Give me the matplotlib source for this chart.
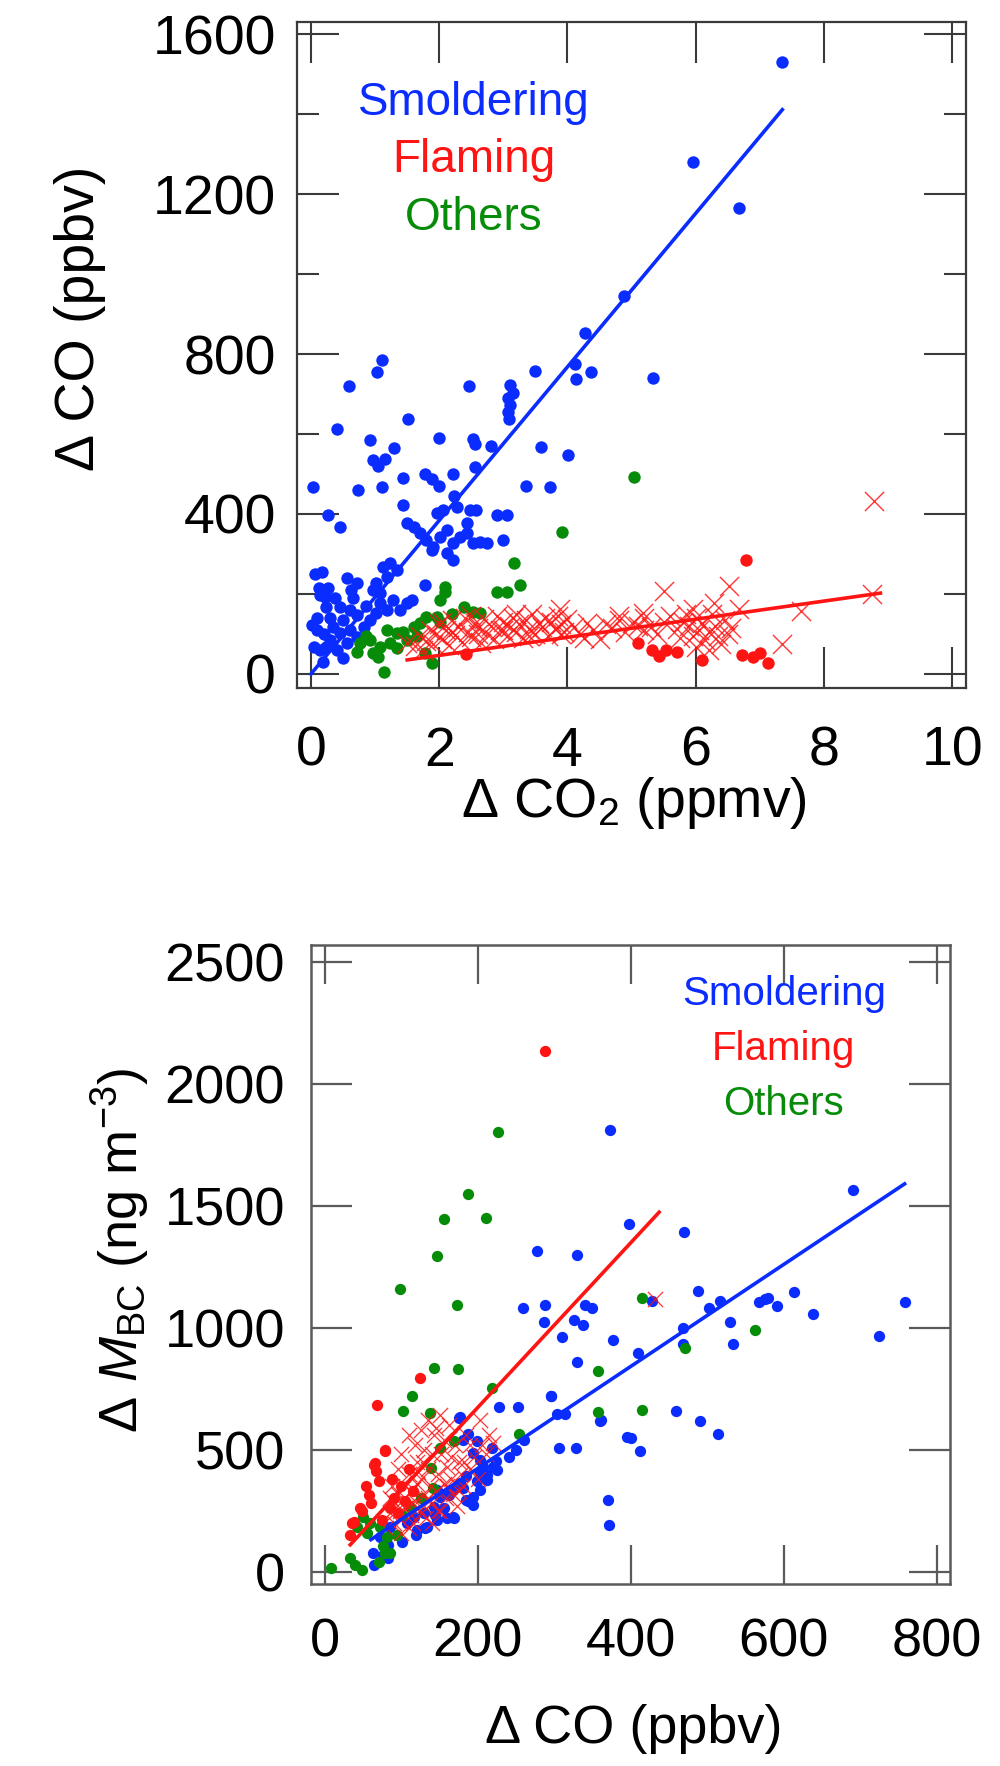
import numpy as np
import matplotlib
matplotlib.use("Agg")
import matplotlib.pyplot as plt

plt.rcParams['font.family'] = ['Liberation Sans', 'DejaVu Sans']
plt.rcParams['mathtext.fontset'] = 'custom'
plt.rcParams['mathtext.rm'] = 'Liberation Sans'
plt.rcParams['mathtext.it'] = 'Liberation Sans:italic'
plt.rcParams['mathtext.bf'] = 'Liberation Sans:bold'

BLUE = '#0a2cff'
RED = '#ff1414'
GREEN = '#078c0a'

# ---------------- top panel data: dCO2 (ppmv) vs dCO (ppbv) ----------------
top_smold = [
    (7.35, 1531), (5.96, 1280), (6.67, 1164), (4.88, 946), (4.27, 853), (4.12, 776), (4.36, 754),
    (4.14, 737), (3.50, 757), (5.34, 741), (1.11, 785), (1.03, 754), (0.59, 719), (2.47, 720),
    (3.11, 722), (3.15, 702), (3.08, 689), (3.10, 672), (3.07, 655), (3.09, 638), (1.51, 638),
    (0.41, 613), (0.92, 584), (1.30, 565), (0.97, 534), (1.05, 521), (1.16, 538), (1.99, 590),
    (2.53, 588), (2.55, 576), (2.81, 571), (3.59, 567), (4.01, 548), (0.03, 467), (0.74, 460),
    (1.11, 467), (1.44, 490), (1.78, 500), (1.89, 488), (2.00, 471), (2.21, 500), (2.55, 517),
    (3.35, 471), (3.72, 467), (2.23, 446),
    (0.27, 398), (0.45, 368), (1.44, 422), (0.17, 256), (0.27, 214), (0.22, 193), (0.14, 198),
    (0.24, 168), (0.56, 239), (0.71, 227), (0.63, 210), (1.78, 222), (1.57, 185), (0.01, 122),
    (0.09, 110), (0.04, 68), (0.14, 60), (0.45, 168), (0.61, 160), (0.71, 147), (0.50, 135),
    (0.35, 118), (0.45, 102), (0.61, 110), (0.71, 93), (0.82, 118), (0.92, 135), (1.02, 152),
    (1.08, 177), (1.18, 160), (1.28, 185), (1.39, 160), (1.49, 177), (1.08, 202), (0.97, 210),
    (0.30, 85), (0.24, 68), (0.40, 60), (0.56, 77), (1.49, 377), (1.60, 368), (1.70, 352),
    (1.80, 335), (1.91, 318), (2.01, 343), (2.12, 360), (2.22, 327), (2.32, 343), (2.43, 352),
    (2.53, 327), (2.64, 331), (2.74, 327), (3.00, 335), (1.96, 402), (2.06, 410), (2.27, 418),
    (2.48, 410), (2.58, 410), (2.43, 377), (2.90, 398), (3.05, 398), (2.12, 302), (2.22, 285),
    (1.88, 310), (1.13, 268), (1.23, 277), (1.34, 260), (1.18, 243), (1.02, 227),
    (0.06, 250), (0.10, 140), (0.30, 140), (0.20, 100), (0.18, 30), (0.50, 40), (0.65, 190),
    (0.85, 170), (0.38, 190), (0.12, 215),
]
top_others = [
    (5.03, 492), (3.92, 354), (3.16, 278), (3.26, 222), (2.90, 206), (3.05, 206), (2.09, 218),
    (2.09, 206), (2.01, 185), (2.38, 168), (2.53, 156), (2.64, 152), (1.80, 143), (1.96, 143),
    (2.01, 131), (1.60, 118), (1.70, 127), (1.18, 110), (1.34, 102), (1.44, 106), (0.76, 77),
    (0.92, 85), (1.08, 68), (1.23, 77), (1.34, 64), (0.71, 56), (0.97, 52), (1.05, 43),
    (1.14, 6), (1.78, 52), (1.88, 27), (0.85, 95), (1.50, 85), (2.20, 150), (1.65, 95),
]
top_flam_dots = [
    (2.41, 49), (5.10, 78), (5.32, 61), (5.43, 44), (5.54, 61), (5.70, 55), (6.10, 35),
    (6.72, 48), (6.90, 43), (7.00, 52), (7.13, 27), (6.79, 285),
]
top_flam_cross = [
    (8.78, 433), (8.75, 199), (7.64, 157), (7.35, 74), (5.50, 208), (6.52, 220), (6.68, 162),
    (6.28, 178), (5.95, 162), (5.17, 153), (3.88, 162), (1.49, 78),
    (1.62, 70), (1.70, 95), (1.80, 82), (1.85, 110), (1.90, 75), (1.95, 100), (2.00, 125),
    (2.05, 88), (2.10, 110), (2.15, 72), (2.20, 135), (2.25, 98), (2.30, 118), (2.35, 80),
    (2.40, 140), (2.45, 105), (2.50, 92), (2.55, 128), (2.60, 115), (2.65, 78), (2.70, 138),
    (2.75, 100), (2.80, 120), (2.85, 88), (2.90, 145), (2.95, 110), (3.00, 130), (3.05, 95),
    (3.10, 118), (3.15, 140), (3.20, 105), (3.25, 125), (3.30, 90), (3.35, 135), (3.40, 112),
    (3.45, 150), (3.50, 100), (3.55, 128), (3.60, 118), (3.65, 140), (3.70, 95), (3.75, 130),
    (3.80, 112), (3.85, 145), (3.90, 125), (3.95, 105), (4.00, 138), (4.10, 118), (4.20, 100),
    (4.30, 128), (4.40, 110), (4.50, 88), (4.60, 125), (4.70, 115), (4.80, 135), (4.90, 105),
    (5.00, 128), (5.10, 120), (5.20, 140), (5.30, 118), (5.40, 100), (5.50, 130), (5.60, 145),
    (5.70, 112), (5.75, 90), (5.80, 130), (5.85, 150), (5.90, 120), (5.95, 95), (6.00, 140),
    (6.05, 110), (6.10, 128), (6.15, 85), (6.20, 105), (6.25, 150), (6.30, 120), (6.35, 95),
    (6.40, 75), (6.45, 135), (6.50, 100), (6.55, 115), (2.20, 105), (2.60, 100), (3.00, 110),
    (3.40, 95), (4.80, 145), (5.20, 110), (6.00, 68), (6.20, 60), (1.75, 60), (2.05, 130),
    (2.50, 145), (3.20, 150), (3.90, 100), (4.25, 90),
]
top_smold_fit_x = [0.0, 7.35]
top_smold_fit_y = [0.0, 1411.0]
top_flam_fit_x = [1.5, 8.88]
top_flam_fit_y = [35.0, 202.0]

# ---------------- bottom panel data: dCO (ppbv) vs dM_BC (ng m-3) ----------------
bot_smold = [
    (373, 1811), (691, 1562), (397, 1425), (470, 1390), (277, 1315), (330, 1299), (488, 1151),
    (614, 1147), (517, 1110), (576, 1116), (758, 1103), (259, 1080), (288, 1093), (286, 1025),
    (310, 961), (329, 861), (340, 1093), (349, 1080), (325, 1032), (338, 1011), (377, 950),
    (428, 1110), (502, 1082), (579, 1123), (591, 1089), (567, 1103), (638, 1055), (724, 966),
    (530, 1021), (533, 932), (468, 1000), (468, 932), (409, 897), (296, 720), (303, 646),
    (314, 646), (227, 676), (253, 676), (361, 622), (395, 553), (306, 506), (328, 506),
    (370, 294), (372, 191), (459, 658), (490, 616), (514, 562), (360, 616), (400, 548),
    (412, 493), (177, 635), (295, 719),
    (175, 630), (187, 562), (199, 534), (218, 507), (224, 452), (212, 397), (199, 370),
    (181, 343), (162, 315), (156, 260), (169, 219), (187, 288), (193, 274), (144, 233),
    (131, 178), (119, 151), (101, 123), (82, 110), (76, 69), (64, 27), (82, 55), (146, 335),
    (150, 307), (159, 321), (168, 225), (159, 218), (146, 212), (133, 184), (120, 171),
    (107, 198), (116, 225), (129, 239), (142, 266), (185, 294), (194, 307), (203, 335),
    (212, 376), (203, 403), (220, 430), (225, 417), (185, 390), (176, 362), (168, 335),
    (181, 540), (194, 485), (203, 458), (207, 430), (72, 143), (81, 103), (63, 75), (85, 184),
    (240, 470), (250, 500), (260, 540),
]
bot_others = [
    (226, 1801), (187, 1548), (155, 1445), (210, 1449), (146, 1292), (98, 1157), (415, 1123),
    (173, 1093), (562, 989), (471, 918), (357, 822), (143, 836), (174, 829), (114, 719),
    (102, 660), (254, 564), (357, 656), (415, 664), (218, 754), (137, 652), (8, 14), (39, 27),
    (48, 7), (70, 41), (79, 75), (94, 151), (101, 233), (113, 260), (125, 301), (141, 343),
    (138, 425), (150, 507), (169, 534), (50, 225), (59, 198), (72, 184), (81, 143), (55, 157),
    (42, 184), (76, 103), (85, 75), (33, 55),
]
bot_flam_dots = [
    (288, 2133), (124, 792), (68, 682), (79, 493), (64, 438), (67, 411), (54, 349), (57, 315),
    (48, 247), (38, 205), (33, 151), (78, 499), (65, 444), (46, 260), (35, 198), (90, 300),
    (100, 350), (110, 420), (70, 370), (60, 280), (85, 260), (95, 240), (105, 290), (115, 330),
    (75, 210), (88, 380),
]
bot_flam_cross = [
    (80, 180), (85, 240), (90, 200), (92, 280), (95, 320), (98, 250), (100, 210), (102, 360),
    (105, 300), (108, 270), (110, 400), (112, 230), (115, 340), (118, 290), (120, 450),
    (122, 260), (125, 380), (128, 310), (130, 500), (132, 220), (135, 420), (138, 350),
    (140, 280), (142, 560), (145, 330), (148, 400), (150, 250), (152, 480), (155, 360),
    (158, 300), (160, 430), (162, 600), (165, 380), (168, 320), (170, 520), (172, 270),
    (175, 450), (178, 400), (180, 350), (185, 560), (190, 420), (195, 470), (200, 380),
    (205, 520), (210, 480), (215, 560), (220, 526), (203, 622), (150, 640), (431, 1116),
    (118, 520), (125, 580), (110, 560), (135, 620), (100, 480), (95, 420), (88, 350),
    (105, 260), (115, 200), (125, 240), (140, 200), (128, 450), (140, 480), (160, 350),
    (155, 540), (145, 590), (100, 160), (110, 180), (120, 360), (130, 270), (90, 240),
    (85, 300), (112, 330), (122, 410), (135, 300), (148, 250), (165, 470), (175, 330),
    (182, 450), (190, 520),
]
bot_smold_fit_x = [60.0, 758.0]
bot_smold_fit_y = [131.0, 1589.0]
bot_flam_fit_x = [33.0, 437.0]
bot_flam_fit_y = [110.0, 1473.0]

legend_labels = ['Smoldering', 'Flaming', 'Others']
legend_colors = [BLUE, RED, GREEN]

top_xticks = [0, 2, 4, 6, 8, 10]
top_yticks = [0, 400, 800, 1200, 1600]
top_yminor = [200, 600, 1000, 1400]
bot_xticks = [0, 200, 400, 600, 800]
bot_yticks = [0, 500, 1000, 1500, 2000, 2500]


def xy(pairs):
    a = np.array(pairs, dtype=float)
    return a[:, 0], a[:, 1]


fig = plt.figure(figsize=(10, 17.66), dpi=100)

# ---------------- top axes ----------------
ax1 = fig.add_axes([0.2967, 0.61025, 0.669, 0.37746])
x, y = xy(top_smold)
ax1.scatter(x, y, s=80, color=BLUE, linewidths=0, zorder=3)
x, y = xy(top_others)
ax1.scatter(x, y, s=80, color=GREEN, linewidths=0, zorder=4)
x, y = xy(top_flam_dots)
ax1.scatter(x, y, s=80, color=RED, linewidths=0, zorder=4)
x, y = xy(top_flam_cross)
ax1.scatter(x, y, s=190, marker='x', color=RED, linewidths=1.0, alpha=0.85, zorder=5)
ax1.plot(top_smold_fit_x, top_smold_fit_y, color=BLUE, lw=2.6, zorder=6)
ax1.plot(top_flam_fit_x, top_flam_fit_y, color=RED, lw=2.6, zorder=6)

ax1.set_xlim(-0.223, 10.21)
ax1.set_ylim(-36, 1631)
ax1.set_xticks(top_xticks)
ax1.set_yticks(top_yticks)
ax1.set_yticks(top_yminor, minor=True)
for s in ax1.spines.values():
    s.set_color('#3a3a3a')
    s.set_linewidth(1.6)
ax1.tick_params(axis='both', which='both', direction='in', top=True, right=True,
                color='#3a3a3a', width=1.5, labelsize=40)
ax1.tick_params(axis='x', which='major', length=29.5, pad=27)
ax1.tick_params(axis='y', which='major', length=30.5, pad=15)
ax1.tick_params(axis='y', which='minor', length=15.5)
ax1.set_xlabel('Δ CO$_2$ (ppmv)', fontsize=40)
ax1.xaxis.set_label_coords(0.504, -0.172)
ax1.xaxis.label.set_va('center')
ax1.set_ylabel('Δ CO (ppbv)', fontsize=40, va='center')
ax1.yaxis.set_label_coords(-0.324, 0.555)

for lab, col, yy in zip(legend_labels, legend_colors, [1397, 1255, 1110]):
    ax1.text(2.54, yy, lab, color=col, fontsize=33, ha='center', va='baseline', zorder=7)

# ---------------- bottom axes ----------------
ax2 = fig.add_axes([0.3107, 0.10289, 0.6393, 0.36200])
x, y = xy(bot_smold)
ax2.scatter(x, y, s=66, color=BLUE, linewidths=0, zorder=3)
x, y = xy(bot_others)
ax2.scatter(x, y, s=66, color=GREEN, linewidths=0, zorder=4)
x, y = xy(bot_flam_dots)
ax2.scatter(x, y, s=66, color=RED, linewidths=0, zorder=4)
x, y = xy(bot_flam_cross)
ax2.scatter(x, y, s=120, marker='x', color=RED, linewidths=0.9, alpha=0.85, zorder=5)
ax2.plot(bot_flam_fit_x, bot_flam_fit_y, color=RED, lw=2.6, zorder=6)
ax2.plot(bot_smold_fit_x, bot_smold_fit_y, color=BLUE, lw=2.6, zorder=6)

ax2.set_xlim(-18.7, 817.4)
ax2.set_ylim(-52, 2568)
ax2.set_xticks(bot_xticks)
ax2.set_yticks(bot_yticks)
for s in ax2.spines.values():
    s.set_color('#5a5a5a')
    s.set_linewidth(1.8)
ax2.tick_params(axis='both', which='both', direction='in', top=True, right=True,
                color='#5a5a5a', width=1.6, labelsize=39)
ax2.tick_params(axis='x', length=28, pad=24)
ax2.tick_params(axis='y', length=29.5, pad=18.5)
ax2.set_xlabel('Δ CO (ppbv)', fontsize=39)
ax2.xaxis.set_label_coords(0.506, -0.226)
ax2.xaxis.label.set_va('center')
ax2.set_ylabel('Δ $M_{\\mathrm{BC}}$ (ng m$^{-3}$)', fontsize=39, va='center')
ax2.yaxis.set_label_coords(-0.298, 0.523)

for lab, col, yy in zip(legend_labels, legend_colors, [2322, 2097, 1871]):
    ax2.text(600, yy, lab, color=col, fontsize=29, ha='center', va='baseline', zorder=7)

fig.savefig('out.png', dpi=100)
